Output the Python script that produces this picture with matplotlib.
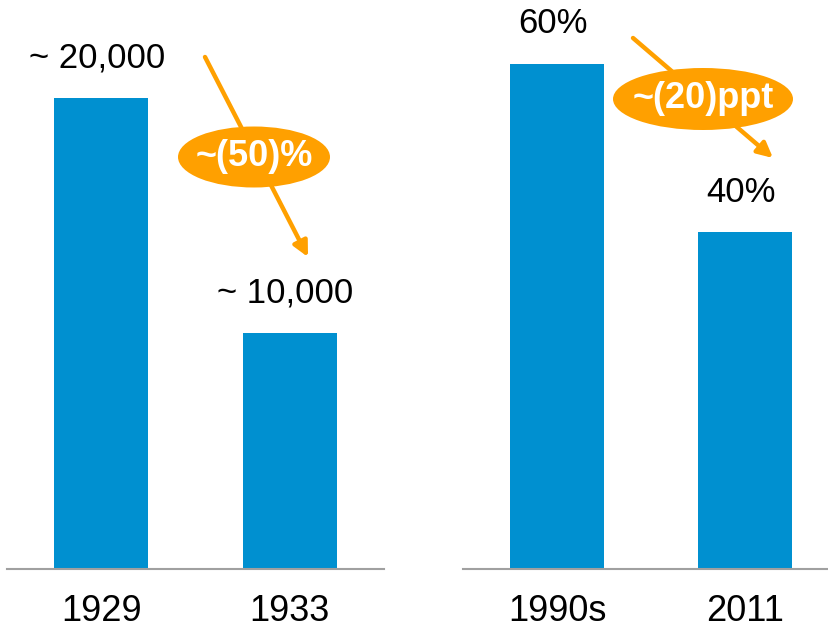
import matplotlib.pyplot as plt
from matplotlib.patches import Ellipse
from matplotlib.text import Annotation

# data
left_cats = ['1929', '1933']
left_vals = [20000, 10000]
left_labels = ['~ 20,000', '~ 10,000']
right_cats = ['1990s', '2011']
right_vals = [60, 40]
right_labels = ['60%', '40%']

blue = '#0090D0'
orange = '#FFA000'
W, H = 829, 632

plt.rcParams['font.family'] = ['Liberation Sans', 'DejaVu Sans']
fig = plt.figure(figsize=(W / 100, H / 100), dpi=100)

bottom = (H - 569) / H
ax1 = fig.add_axes([7 / W, bottom, 377 / W, 1 - bottom])
ax2 = fig.add_axes([463 / W, bottom, 376 / W, 1 - bottom])


def panel(ax, cats, vals, labels, top):
    x = range(len(cats))
    ax.bar(x, vals, width=0.5, color=blue, zorder=2)
    ax.set_xlim(-0.5, 1.5)
    ax.set_ylim(0, top)
    for s in ['top', 'right', 'left']:
        ax.spines[s].set_visible(False)
    ax.spines['bottom'].set_color('#A0A0A0')
    ax.spines['bottom'].set_linewidth(1.5)
    ax.set_yticks([])
    ax.set_xticks(list(x))
    ax.set_xticklabels(cats, fontsize=26)
    ax.tick_params(axis='x', length=0, pad=18)
    for xi, v, lab in zip(x, vals, labels):
        ax.annotate(lab, (xi, v), xytext=(-3, 17), textcoords='offset points',
                    ha='center', va='bottom', fontsize=25)
    ax.patch.set_alpha(0)


panel(ax1, left_cats, left_vals, left_labels, 24160)
panel(ax2, right_cats, right_vals, right_labels, 67.6)


def fpos(px, py):
    return (px / W, 1 - py / H)


def change(start, end, centre, size, text):
    ann = Annotation('', xy=fpos(*end), xytext=fpos(*start), xycoords='figure fraction',
                     arrowprops=dict(arrowstyle='-|>,head_length=0.9,head_width=0.45',
                                     color=orange, lw=3.2, shrinkA=0, shrinkB=0))
    ann.set_zorder(3)
    fig.add_artist(ann)
    e = Ellipse(fpos(*centre), size[0] / W, size[1] / H, transform=fig.transFigure,
                facecolor=orange, edgecolor='none', zorder=4)
    fig.add_artist(e)
    fig.text(*fpos(*centre), text, ha='center', va='center', color='white',
             fontsize=26, fontweight='bold', zorder=5)


change((205, 57), (308, 257), (254, 157), (152, 61), '~(50)%')
change((633, 38), (773, 158), (703, 99), (180, 62), '~(20)ppt')

fig.savefig('out.png', dpi=100)
